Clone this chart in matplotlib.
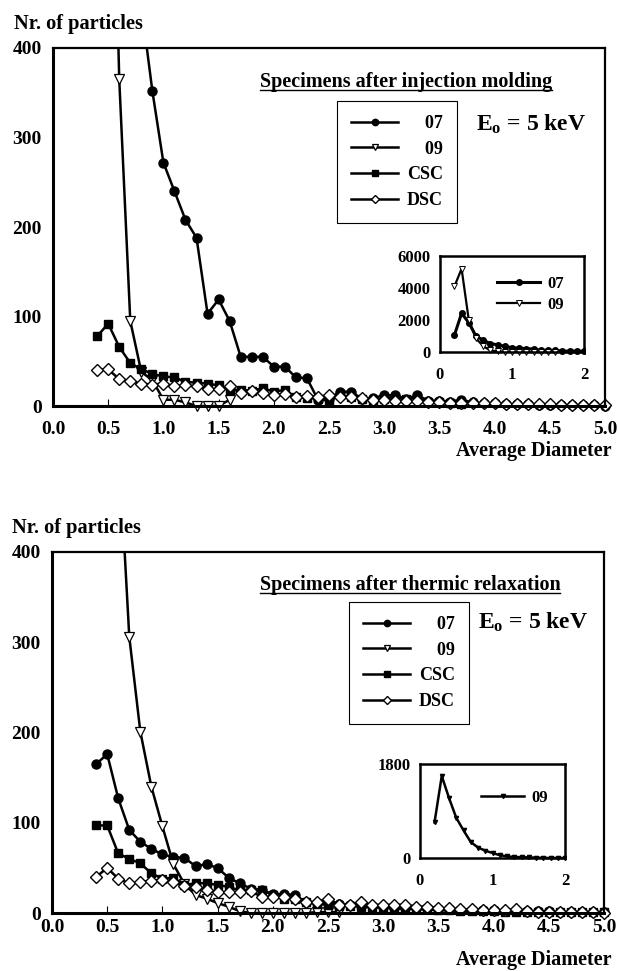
import numpy as np
import matplotlib
matplotlib.use("Agg")
import matplotlib.pyplot as plt
from matplotlib.transforms import Bbox, TransformedBbox
from matplotlib.lines import Line2D

plt.rcParams['font.family'] = ['Liberation Serif', 'DejaVu Serif']
plt.rcParams['font.weight'] = 'bold'
plt.rcParams['mathtext.fontset'] = 'custom'
plt.rcParams['mathtext.rm'] = 'Liberation Serif:bold'
plt.rcParams['mathtext.bf'] = 'Liberation Serif:bold'
plt.rcParams['mathtext.it'] = 'Liberation Serif:bold:italic'

# ---------------- data ----------------
step = 0.1
# top panel: specimens after injection molding
top_07_start = 0.2
top_07 = [1050, 2420, 1830, 990, 740, 525, 448, 352, 272, 240, 208, 188, 103, 119, 95,
          55, 55, 55, 44, 44, 32, 31, 7, 8, 16, 16, 8, 9, 12, 12, 8, 12, 6, 6, 5, 7,
          4, 3, 3, 2, 2, 2, 1, 1, 1, 1, 1, 1, 0]
top_09_start = 0.2
top_09 = [4100, 5200, 1990, 850, 365, 95, 38, 29, 7, 7, 4, 0, 0, 0, 7]
top_csc_start = 0.4
top_csc = [78, 92, 66, 48, 41, 36, 33, 32, 27, 26, 25, 23, 18, 18, 17, 20, 16, 18, 10, 9,
           8, 6, 12, 10, 8, 6, 8, 10, 8, 10, 5, 4, 3, 2]
top_dsc_start = 0.4
top_dsc = [40, 41, 30, 28, 25, 24, 25, 22, 23, 22, 19, 19, 22, 14, 17, 15, 12, 13, 10, 11,
           10, 12, 10, 10, 9, 7, 7, 6, 6, 6, 4, 4, 3, 3, 3, 3, 3, 2, 2, 2, 2, 2, 1, 1,
           1, 1, 1]

# bottom panel: specimens after thermic relaxation
bot_07_start = 0.4
bot_07 = [165, 176, 127, 92, 79, 71, 65, 62, 61, 52, 54, 50, 39, 33, 27, 25, 21, 21, 20,
          12, 11, 12, 10, 9, 8, 8, 7, 6, 6, 5, 5, 4, 4, 3, 3, 3, 3, 2, 2, 2, 2, 2, 1, 1,
          1, 1, 1]
bot_09_start = 0.2
bot_09 = [680, 1570, 1150, 770, 530, 306, 201, 140, 96, 54, 32, 20, 16, 11, 7, 2, 0, 0,
          0, 0, 0, 0, 1, 1, 1]
bot_csc_start = 0.4
bot_csc = [97, 97, 66, 60, 55, 44, 38, 39, 31, 33, 33, 31, 29, 25, 26, 26, 20, 16, 16, 12,
           10, 9, 8, 8, 7, 6, 6, 5, 5, 4, 4, 3, 3, 2, 2, 2, 2, 1, 1, 1, 1, 1, 1, 1, 1, 1, 1]
bot_dsc_start = 0.4
bot_dsc = [40, 50, 38, 33, 34, 36, 37, 34, 30, 29, 26, 23, 23, 23, 24, 18, 18, 18, 16, 12,
           12, 16, 9, 9, 12, 9, 9, 9, 9, 7, 7, 5, 5, 4, 4, 3, 3, 3, 4, 2, 1, 1, 1, 1, 1,
           1, 0]

series_labels = ["07", "09", "CSC", "DSC"]
legend_labels = ["    07", "    09", "CSC", "DSC"]
x_ticks = [0.0, 0.5, 1.0, 1.5, 2.0, 2.5, 3.0, 3.5, 4.0, 4.5, 5.0]
y_ticks = [0, 100, 200, 300, 400]
inset_top_yticks = [0, 2000, 4000, 6000]
inset_bot_yticks = [0, 1800]
inset_xticks = [0, 1, 2]


def xs(start, vals):
    return np.round(start + step * np.arange(len(vals)), 2)


W, H = 618, 971
fig = plt.figure(figsize=(W / 100, H / 100), dpi=100)


def fx(px):
    return px / W


def fy(py):
    return 1 - py / H


styles = {
    "07": dict(marker='o', mfc='black', mec='black', ms=6.5),
    "09": dict(marker='v', mfc='white', mec='black', ms=6.5, mew=0.9),
    "CSC": dict(marker='s', mfc='black', mec='black', ms=6),
    "DSC": dict(marker='D', mfc='white', mec='black', ms=6, mew=1.0),
}


def extend_clip(ax, line):
    bb = TransformedBbox(Bbox([[-0.01, -0.03], [1.01, 1.0]]), ax.transAxes)
    line.set_clip_box(bb)


def main_panel(rect, data, title, title_xy, legend_xy, eo_xy, ylab_xy, xlab_xy, xpad):
    ax = fig.add_axes(rect)
    handles = []
    for lab, (start, vals) in zip(series_labels, data):
        ln, = ax.plot(xs(start, vals), vals, color='black', lw=1.8, **styles[lab])
        extend_clip(ax, ln)
        handles.append(ln)
    ax.set_xlim(0, 5)
    ax.set_ylim(0, 400)
    ax.set_xticks(x_ticks)
    ax.set_xticklabels([f"{t:.1f}" for t in x_ticks])
    ax.set_yticks(y_ticks)
    ax.tick_params(axis='x', direction='in', length=5, width=0.8, pad=xpad, labelsize=14)
    ax.tick_params(axis='y', length=0, pad=8, labelsize=14)
    for s in ax.spines.values():
        s.set_linewidth(1.6)
    ax.spines['left'].set_linewidth(2.2)
    ax.spines['bottom'].set_linewidth(2.2)
    leg = ax.legend(handles, legend_labels, loc='upper left',
                    bbox_to_anchor=(fx(legend_xy[0]), fy(legend_xy[1])),
                    bbox_transform=fig.transFigure, frameon=True, fancybox=False,
                    edgecolor='black', framealpha=1, fontsize=13, handlelength=2.6,
                    handletextpad=0.5, labelspacing=0.48, borderpad=0.78,
                    borderaxespad=0, markerscale=0.7)
    leg.get_frame().set_linewidth(0.8)
    t = fig.text(fx(title_xy[0]), fy(title_xy[1]), title, ha='center', va='baseline',
                 fontsize=14.5, fontweight='bold')
    fig.text(fx(eo_xy[0]), fy(eo_xy[1]), r"E$_\mathrm{o}$ = 5 keV", ha='left',
             va='baseline', fontsize=17, fontweight='bold')
    fig.text(fx(ylab_xy[0]), fy(ylab_xy[1]), "Nr. of particles", ha='left',
             va='baseline', fontsize=14.7, fontweight='bold')
    fig.text(fx(xlab_xy[0]), fy(xlab_xy[1]), "Average Diameter", ha='right',
             va='baseline', fontsize=14.5, fontweight='bold')
    return ax, t


def inset(rect, data, labels, yticks, ylim, lws, sty):
    ax = fig.add_axes(rect)
    hs = []
    for lab, (start, vals), lw, st in zip(labels, data, lws, sty):
        x = xs(start, vals)
        v = np.array(vals)
        m = x <= 2.0 + 1e-9
        ln, = ax.plot(x[m], v[m], color='black', lw=lw, **st)
        extend_clip(ax, ln)
        hs.append(ln)
    ax.set_xlim(0, 2)
    ax.set_ylim(*ylim)
    ax.set_xticks(inset_xticks)
    ax.set_yticks(yticks)
    ax.tick_params(axis='both', length=0, labelsize=12)
    ax.tick_params(axis='x', pad=11)
    ax.tick_params(axis='y', pad=7)
    for s in ax.spines.values():
        s.set_linewidth(1.8)
    return ax, hs


# ---------- top panel ----------
ax1, t1 = main_panel([fx(53), fy(406), fx(605) - fx(53), fy(48) - fy(406)],
                     [(top_07_start, top_07), (top_09_start, top_09),
                      (top_csc_start, top_csc), (top_dsc_start, top_dsc)],
                     "Specimens after injection molding", (406, 87), (337, 101),
                     (476, 131), (14, 29), (612, 456), 11)

ins1, h1 = inset([fx(440), fy(352), fx(584) - fx(440), fy(256) - fy(352)],
                 [(top_07_start, top_07), (top_09_start, top_09)], ["07", "09"],
                 inset_top_yticks, (0, 6000), [2.2, 1.6],
                 [dict(marker='o', mfc='black', mec='black', ms=4),
                  dict(marker='v', mfc='white', mec='black', ms=4.5, mew=0.7)])
ins1.legend(h1, ["07", "09"], loc='upper left',
            bbox_to_anchor=(fx(497), fy(276)), bbox_transform=fig.transFigure,
            frameon=False, fontsize=12, handlelength=2.6, handletextpad=0.4,
            labelspacing=0.3, borderpad=0, borderaxespad=0)

# ---------- bottom panel ----------
ax2, t2 = main_panel([fx(52), fy(913), fx(604) - fx(52), fy(552) - fy(913)],
                     [(bot_07_start, bot_07), (bot_09_start, bot_09),
                      (bot_csc_start, bot_csc), (bot_dsc_start, bot_dsc)],
                     "Specimens after thermic relaxation", (410, 590), (349, 602),
                     (478, 629), (12, 533), (612, 965), 4)

ins2, h2 = inset([fx(420), fy(858), fx(565) - fx(420), fy(764) - fy(858)],
                 [(bot_09_start, bot_09)], ["09"], inset_bot_yticks, (0, 1800), [1.8],
                 [dict(marker='v', mfc='black', mec='black', ms=3)])
ins2.legend(h2, ["09"], loc='upper left',
            bbox_to_anchor=(fx(481), fy(790)), bbox_transform=fig.transFigure,
            frameon=False, fontsize=12, handlelength=2.6, handletextpad=0.4,
            borderpad=0, borderaxespad=0)

# underline titles
fig.canvas.draw()
r = fig.canvas.get_renderer()
for t in (t1, t2):
    bb = t.get_window_extent(r).transformed(fig.transFigure.inverted())
    ybase = t.get_position()[1] - 3.0 / H
    fig.add_artist(Line2D([bb.x0, bb.x1], [ybase, ybase], color='black', lw=1.0,
                          transform=fig.transFigure))

fig.savefig("out.png", dpi=100)
